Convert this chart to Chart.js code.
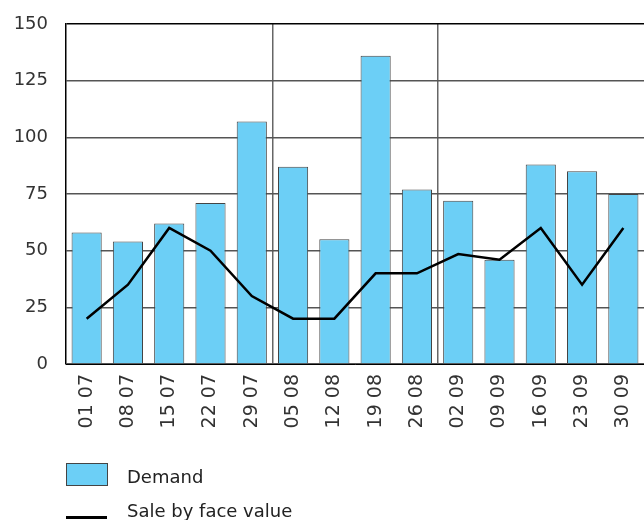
<!DOCTYPE html>
<html>
<head>
<meta charset="utf-8">
<script src="https://cdn.jsdelivr.net/npm/chart.js@4/dist/chart.umd.min.js"></script>
<style>
  body { margin: 0; background: #fff; }
  #wrap { position: relative; width: 644px; height: 520px; }
  .legend { position: absolute; left: 66px; font-family: "DejaVu Sans", sans-serif; font-size: 18px; color: #222; }
  .legend .box { position: absolute; left: 0; width: 40px; height: 21px; background: #6CCFF6; border: 1px solid #444; }
  .legend .ln { position: absolute; left: 0; width: 41px; height: 0; border-top: 3px solid #000; }
  .legend span { position: absolute; left: 61px; white-space: nowrap; }
</style>
</head>
<body>
<div id="wrap">
  <canvas id="chart" width="644" height="520"></canvas>
  <div class="legend" style="top:463px"><div class="box"></div><span style="top:3px">Demand</span></div>
  <div class="legend" style="top:496px"><div class="ln" style="top:20px"></div><span style="top:4px">Sale by face value</span></div>
</div>
<script>
const weeks = ["01 07", "08 07", "15 07", "22 07", "29 07", "05 08", "12 08",
  "19 08", "26 08", "02 09", "09 09", "16 09", "23 09", "30 09"];
const demand = [58, 54, 62, 71, 107, 87, 55, 136, 77, 72, 46, 88, 85, 75];
const saleByFace = [20, 35, 60, 50, 30, 20, 20, 40, 40, 48.5, 46, 60, 35, 60];
const monthBreaks = [5, 9];

const fontFamily = '"DejaVu Sans", sans-serif';

const chart = new Chart("chart", {
  type: "bar",
  data: {
    labels: weeks,
    datasets: [
      {
        type: "line",
        label: "Sale by face value",
        data: saleByFace,
        borderColor: "#000",
        borderWidth: 2.5,
        pointRadius: 0,
        tension: 0,
        fill: false,
        order: 0,
      },
      {
        label: "Demand",
        data: demand,
        backgroundColor: "#6CCFF6",
        borderColor: "#444",
        borderWidth: 1,
        categoryPercentage: 1,
        barPercentage: 0.73,
        order: 1,
      },
    ],
  },
  options: {
    responsive: false,
    animation: false,
    layout: { padding: { top: 24, right: 0, left: 0, bottom: 0 } },
    plugins: { legend: { display: false }, tooltip: { enabled: false } },
    scales: {
      x: {
        afterFit: (s) => {
          s.height = 156;
          s.paddingLeft = 0;
          s.paddingRight = 0;
        },
        border: { display: true, color: "#000", width: 1 },
        grid: {
          offset: true,
          drawTicks: false,
          color: (c) => (monthBreaks.includes(c.index) ? "#666" : "rgba(0,0,0,0)"),
          lineWidth: 1.5,
        },
        ticks: {
          autoSkip: false,
          maxRotation: 90,
          minRotation: 90,
          padding: 10,
          color: "#333",
          font: { family: fontFamily, size: 19 },
        },
      },
      y: {
        min: 0,
        max: 150,
        afterFit: (s) => {
          s.width = 66;
          s.paddingTop = 0;
          s.paddingBottom = 0;
        },
        border: { display: true, color: "#000", width: 1.5 },
        grid: {
          drawTicks: false,
          color: (c) => (c.tick.value === 150 ? "#000" : "#555"),
          lineWidth: 1.5,
        },
        ticks: {
          stepSize: 25,
          padding: 18,
          color: "#333",
          font: { family: fontFamily, size: 18 },
        },
      },
    },
  },
});
</script>
</body>
</html>
